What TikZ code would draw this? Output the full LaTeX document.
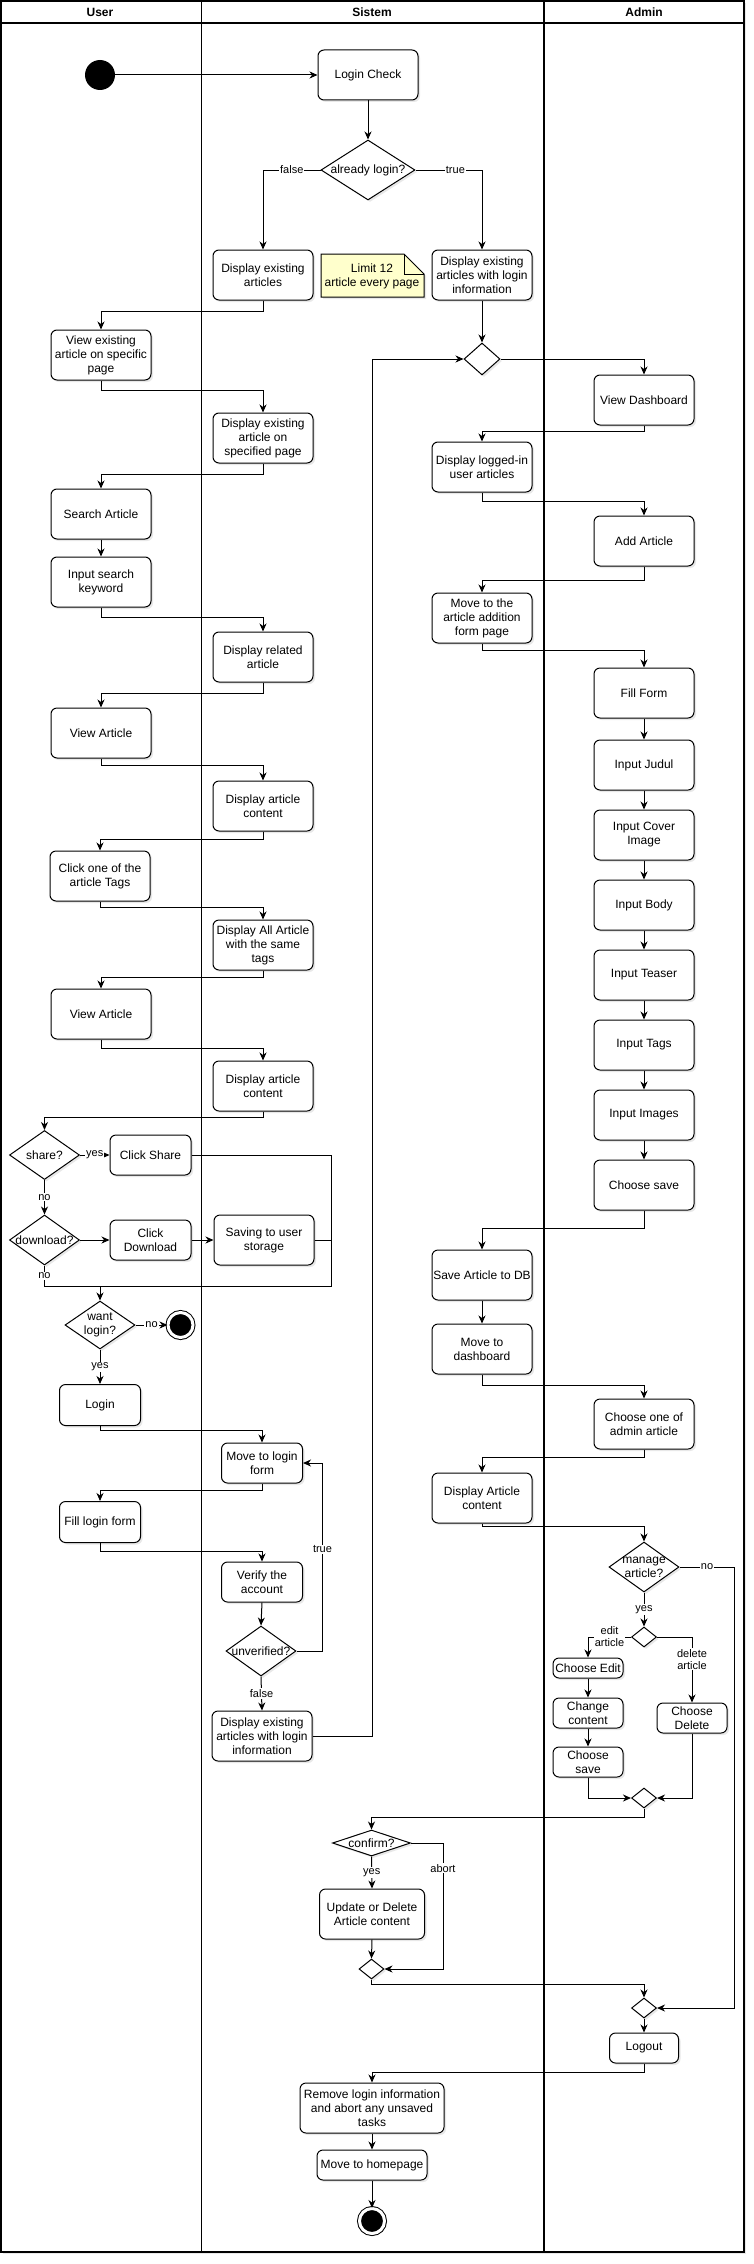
\documentclass[tikz,border=0pt]{standalone}
\usepackage{fontspec}
\setmainfont{Liberation Sans}
\usetikzlibrary{arrows.meta,shapes.geometric,shadows}
\definecolor{notefill}{HTML}{FFFFCC}

\begin{document}
\begin{tikzpicture}[x=1pt,y=-1pt,
    font=\fontsize{12pt}{14pt}\selectfont,
    act/.style={draw,rounded corners=6pt,fill=white,align=center,inner sep=0pt,
        minimum width=100pt,minimum height=50pt,line width=1pt,
        drop shadow={shadow xshift=2pt,shadow yshift=-2pt,opacity=.18}},
    sact/.style={act,minimum width=81pt,minimum height=40pt},
    tact/.style={act,minimum width=70pt,minimum height=30pt},
    dec/.style={draw,diamond,fill=white,inner sep=0pt,line width=1pt,
        minimum width=70pt,minimum height=50pt,
        drop shadow={shadow xshift=2pt,shadow yshift=-2pt,opacity=.18}},
    mrg/.style={dec,minimum width=25pt,minimum height=20pt},
    startdot/.style={circle,fill=black,minimum size=30pt,inner sep=0pt},
    enddot/.style={circle,draw,fill=black,double=white,double distance=3pt,
        line width=1pt,minimum size=25pt,inner sep=0pt},
    head/.style={font=\fontsize{12pt}{14pt}\selectfont\bfseries},
    flow/.style={line width=1pt,-{Stealth[length=8pt,width=7pt,inset=2.5pt]}},
    link/.style={line width=1pt},
    lbl/.style={fill=white,inner sep=1pt,align=center,
        font=\fontsize{11pt}{12pt}\selectfont},
    lane/.style={line width=1.3pt}]

\useasboundingbox (0,0) rectangle (753,2264);

\draw[lane,fill=white,drop shadow={shadow xshift=2pt,shadow yshift=-2pt,opacity=.18}]
    (1,1) rectangle (744,2252);
\draw[lane] (1,23) -- (744,23);
\draw[lane] (201.5,1) -- (201.5,2252);
\draw[lane] (544,1) -- (544,2252);
\node[head] (hu) at (100,12) {User};
\node[head] (hs) at (372,12) {Sistem};
\node[head] (ha) at (644,12) {Admin};

\node[startdot] (st) at (100,75) {};
\node[act] (lc) at (368,75) {Login Check};
\node[dec,minimum width=94pt,minimum height=60pt,label={center:already login?}] (al) at (368,170) {};
\node[act] (dea) at (263,275) {Display existing\\articles};
\filldraw[link,fill=notefill,drop shadow={shadow xshift=2pt,shadow yshift=-2pt,opacity=.18}]
    (321,254) -- (404,254) -- (424,274) -- (424,297) -- (321,297) -- cycle;
\draw[link] (404,254) -- (404,274) -- (424,274);
\node[align=center] (nt) at (372,276) {Limit 12\\article every page};
\node[act] (deal) at (482,275) {Display existing\\articles with login\\information};
\node[mrg,minimum width=36pt,minimum height=32pt] (m1) at (482,359) {};

\node[act] (vesp) at (101,355) {View existing\\article on specific\\page};
\node[act] (deas) at (263,438) {Display existing\\article on\\specified page};
\node[act] (sa) at (101,514) {Search Article};
\node[act] (isk) at (101,582) {Input search\\keyword};
\node[act] (dra) at (263,657) {Display related\\article};
\node[act] (va1) at (101,733) {View Article};
\node[act] (dac1) at (263,806) {Display article\\content};
\node[act] (cat) at (100,876) {Click one of the\\article Tags};
\node[act] (das) at (263,945) {Display All Article\\with the same\\tags};
\node[act] (va2) at (101,1014) {View Article};
\node[act] (dac2) at (263,1086) {Display article\\content};
\node[dec,minimum height=49pt,label={center:share?}] (share) at (44.5,1155) {};
\node[sact] (csh) at (150.5,1155) {Click Share};
\node[dec,label={center:download?}] (dl) at (44.5,1240) {};
\node[sact] (cdl) at (150.5,1240) {Click\\Download};
\node[act] (sus) at (264,1240) {Saving to user\\storage};
\coordinate (jr) at (331,1286);
\node[dec,minimum height=48pt,label={[align=center]center:want\\login?}] (wl) at (100,1325) {};
\node[enddot] (end1) at (180.5,1325) {};
\node[sact,minimum height=41pt] (login) at (100,1405) {Login};
\node[sact] (mlf) at (262,1463) {Move to login\\form};
\node[sact,minimum height=41pt] (flf) at (100,1522) {Fill login form};
\node[sact] (vta) at (262,1582) {Verify the\\account};
\node[dec,label={center:unverified?}] (unv) at (261,1651) {};
\node[act] (devl2) at (262,1736) {Display existing\\articles with login\\information};

\node[act] (vd) at (644,400) {View Dashboard};
\node[act] (dlua) at (482,467) {Display logged-in\\user articles};
\node[act] (aa) at (644,541) {Add Article};
\node[act] (mafp) at (482,618) {Move to the\\article addition\\form page};
\node[act] (ff) at (644,693) {Fill Form};
\node[act] (ij) at (644,765) {Input Judul};
\node[act] (ici) at (644,835) {Input Cover\\Image};
\node[act] (ib) at (644,905) {Input Body};
\node[act] (it) at (644,975) {Input Teaser};
\node[act] (itg) at (644,1045) {Input Tags};
\node[act] (iim) at (644,1115) {Input Images};
\node[act] (cs) at (644,1185) {Choose save};
\node[act] (sadb) at (482,1275) {Save Article to DB};
\node[act] (mtd) at (482,1349) {Move to\\dashboard};
\node[act] (coa) at (644,1424) {Choose one of\\admin article};
\node[act] (dacA) at (482,1498) {Display Article\\content};
\node[dec,label={[align=center]center:manage\\article?}] (ma) at (644,1567) {};
\node[mrg] (d1) at (644,1637) {};
\node[tact,minimum height=20pt] (ce) at (588,1668) {Choose Edit};
\node[tact] (cc) at (588,1713) {Change\\content};
\node[tact] (csv) at (588,1762) {Choose\\save};
\node[tact] (cd) at (692,1718) {Choose\\Delete};
\node[mrg] (m2) at (644,1798) {};

\node[dec,minimum width=78pt,minimum height=26pt,label={center:confirm?}] (conf) at (371.5,1843) {};
\node[act,minimum width=105pt] (udac) at (372,1914) {Update or Delete\\Article content};
\node[mrg] (m3) at (371.5,1969) {};
\node[mrg] (m4) at (644,2008) {};
\node[tact,minimum width=69pt] (lo) at (644,2048) {Logout};
\node[act,minimum width=144pt] (rli) at (372,2108) {Remove login information\\and abort any unsaved\\tasks};
\node[tact,minimum width=110pt] (mth) at (372,2165) {Move to homepage};
\node[enddot] (end2) at (372,2221) {};

\foreach \a/\b in {lc/al,deal/m1,sa/isk,ff/ij,ij/ici,ici/ib,ib/it,it/itg,itg/iim,iim/cs,
    sadb/mtd,vta/unv,ce/cc,cc/csv,udac/m3,m4/lo,rli/mth}
    \draw[flow] (\a.south) -- (\b.north);
\draw[flow] (mth.south) -- (end2);
\draw[flow] (st.east) -- (lc.west);

\draw[flow] (al.west) -| (dea.north) node[lbl,pos=0.25] {false};
\draw[flow] (al.east) -| (deal.north) node[lbl,pos=0.3] {true};
\draw[flow] (dea.south) -- ++(0,11) -| (vesp.north);
\draw[flow] (vesp.south) -- ++(0,10) -| (deas.north);
\draw[flow] (deas.south) -- ++(0,11) -| (sa.north);
\draw[flow] (isk.south) -- ++(0,10) -| (dra.north);
\draw[flow] (dra.south) -- ++(0,11) -| (va1.north);
\draw[flow] (va1.south) -- ++(0,7) -| (dac1.north);
\draw[flow] (dac1.south) -- ++(0,8) -| (cat.north);
\draw[flow] (cat.south) -- ++(0,6) -| (das.north);
\draw[flow] (das.south) -- ++(0,7) -| (va2.north);
\draw[flow] (va2.south) -- ++(0,9) -| (dac2.north);
\draw[flow] (dac2.south) -- ++(0,6) -| (share.north);

\draw[flow] (share.east) -- (csh.west) node[lbl,midway] {yes};
\draw[flow] (share.south) -- (dl.north) node[lbl,midway] {no};
\draw[flow] (dl.east) -- (cdl.west);
\draw[flow] (cdl.east) -- (sus.west);
\draw[flow] (csh.east) -| (jr) -| (wl.north);
\draw[link] (sus.east) -- (sus.east -| jr);
\draw[link] (dl.south) |- (jr) node[lbl,pos=0.25] {no};
\draw[flow] (wl.east) -- (end1) node[lbl,midway] {no};
\draw[flow] (wl.south) -- (login.north) node[lbl,midway] {yes};
\draw[flow] (login.south) -- ++(0,4) -| (mlf.north);
\draw[flow] (mlf.south) -- ++(0,7) -| (flf.north);
\draw[flow] (flf.south) -- ++(0,8.5) -| (vta.north);
\draw[flow] (unv.east) -- ++(26,0) |- (mlf.east) node[lbl,pos=0.27] {true};
\draw[flow] (unv.south) -- (devl2.north) node[lbl,midway] {false};
\draw[flow] (devl2.east) -- ++(60,0) |- (m1.west);

\draw[flow] (m1.east) -| (vd.north);
\draw[flow] (vd.south) -- ++(0,6) -| (dlua.north);
\draw[flow] (dlua.south) -- ++(0,9) -| (aa.north);
\draw[flow] (aa.south) -- ++(0,14) -| (mafp.north);
\draw[flow] (mafp.south) -- ++(0,7) -| (ff.north);
\draw[flow] (cs.south) -- ++(0,18) -| (sadb.north);
\draw[flow] (mtd.south) -- ++(0,11) -| (coa.north);
\draw[flow] (coa.south) -- ++(0,8) -| (dacA.north);
\draw[flow] (dacA.south) -- ++(0,3) -| (ma.north);
\draw[flow] (ma.east) -- node[lbl] {no} ++(55,0) |- (m4.east);
\draw[flow] (ma.south) -- (d1.north) node[lbl,midway] {yes};
\draw[flow] (d1.west) -| (ce.north) node[lbl,pos=0.25] {edit\\article};
\draw[flow] (d1.east) -| (cd.north) node[lbl,pos=0.67] {delete\\article};
\draw[flow] (csv.south) |- (m2.west);
\draw[flow] (cd.south) |- (m2.east);
\draw[flow] (m2.south) -- ++(0,9) -| (conf.north);
\draw[flow] (conf.south) -- (udac.north) node[lbl,midway] {yes};
\draw[flow] (conf.east) -- ++(32,0) |- (m3.east) node[lbl,pos=0.1] {abort};
\draw[flow] (m3.south) -- ++(0,5) -| (m4.north);
\draw[flow] (lo.south) -- ++(0,9) -| (rli.north);

\end{tikzpicture}
\end{document}
